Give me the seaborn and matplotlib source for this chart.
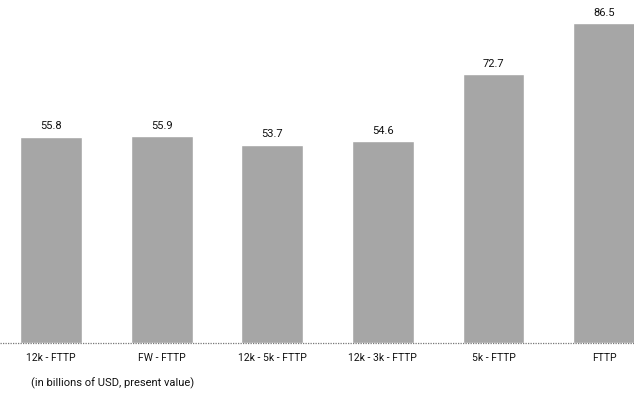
import matplotlib
matplotlib.use("Agg")
import matplotlib.pyplot as plt
import seaborn as sns
import pandas as pd

scenarios = ["12k - FTTP", "FW - FTTP", "12k - 5k - FTTP", "12k - 3k - FTTP", "5k - FTTP", "FTTP"]
costs = [55.8, 55.9, 53.7, 54.6, 72.7, 86.5]
note = "(in billions of USD, present value)"

df = pd.DataFrame({"scenario": scenarios, "cost": costs})

sns.set_theme(style="white")
plt.rcParams["font.family"] = ["Roboto", "DejaVu Sans"]

fig = plt.figure(figsize=(6.34, 4.0), dpi=100)
ax = fig.add_axes([0.0, 0.1425, 1.0, 0.8575])

sns.barplot(data=df, x="scenario", y="cost", color="#a6a6a6", saturation=1,
            width=0.56, ax=ax)

for patch, val in zip(ax.patches, costs):
    ax.annotate(f"{val:.1f}", (patch.get_x() + patch.get_width() / 2, val),
                xytext=(0, 4), textcoords="offset points",
                ha="center", va="bottom", fontsize=8, color="#111111")

ax.set_xlim(-0.461, 5.27)
ax.set_ylim(0, 92.8)
ax.axhline(0, color="#777777", lw=0.9, ls=(0, (1, 1)), clip_on=False)
for s in ax.spines.values():
    s.set_visible(False)
ax.set_yticks([])
ax.set_xlabel("")
ax.set_ylabel("")
ax.tick_params(axis="x", length=0, pad=7.5, labelsize=7.5, labelcolor="#111111")

fig.text(31 / 634, 1 - 383 / 400, note, ha="left", va="center",
         fontsize=8, color="#111111")

fig.savefig("out.png", dpi=100)
